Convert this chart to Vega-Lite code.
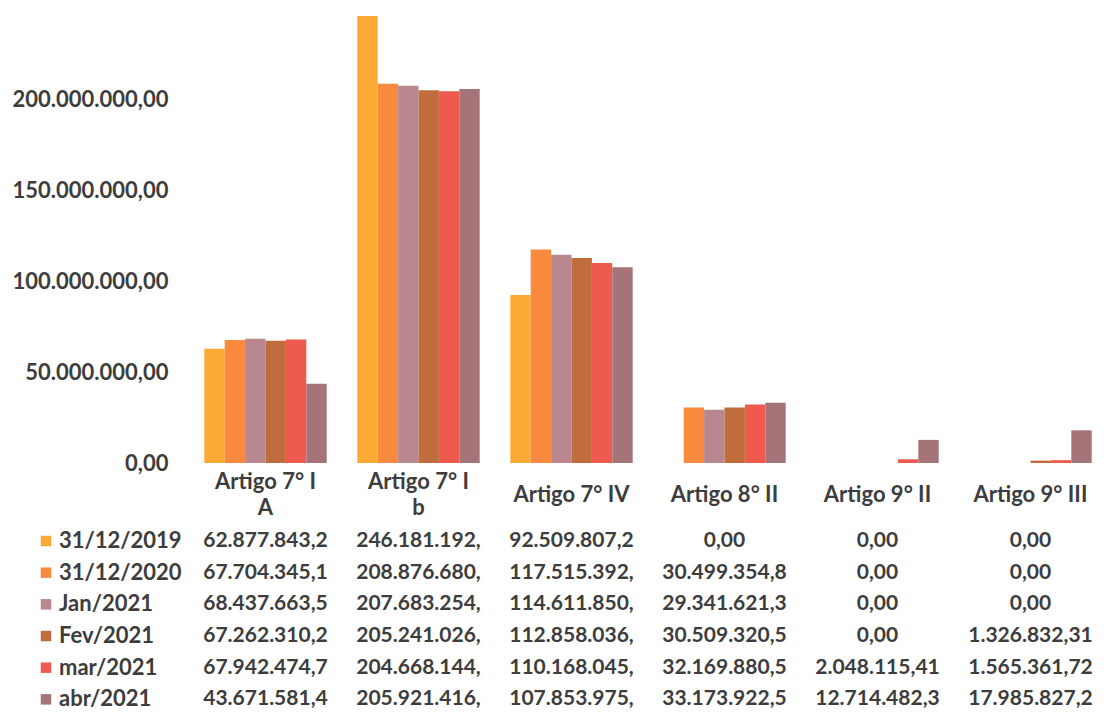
{
  "$schema": "https://vega.github.io/schema/vega-lite/v6.json",
  "background": "white",
  "padding": {"left": 12, "top": 9, "right": 0, "bottom": 0},
  "spacing": 62,
  "bounds": "flush",
  "data": {"values": [
    {"artigo": "Artigo 7° I A", "serie": "31/12/2019", "valor": 62877843.2, "rotulo": "62.877.843,2"},
    {"artigo": "Artigo 7° I A", "serie": "31/12/2020", "valor": 67704345.1, "rotulo": "67.704.345,1"},
    {"artigo": "Artigo 7° I A", "serie": "Jan/2021", "valor": 68437663.5, "rotulo": "68.437.663,5"},
    {"artigo": "Artigo 7° I A", "serie": "Fev/2021", "valor": 67262310.2, "rotulo": "67.262.310,2"},
    {"artigo": "Artigo 7° I A", "serie": "mar/2021", "valor": 67942474.7, "rotulo": "67.942.474,7"},
    {"artigo": "Artigo 7° I A", "serie": "abr/2021", "valor": 43671581.4, "rotulo": "43.671.581,4"},
    {"artigo": "Artigo 7° I b", "serie": "31/12/2019", "valor": 246181192, "rotulo": "246.181.192,"},
    {"artigo": "Artigo 7° I b", "serie": "31/12/2020", "valor": 208876680, "rotulo": "208.876.680,"},
    {"artigo": "Artigo 7° I b", "serie": "Jan/2021", "valor": 207683254, "rotulo": "207.683.254,"},
    {"artigo": "Artigo 7° I b", "serie": "Fev/2021", "valor": 205241026, "rotulo": "205.241.026,"},
    {"artigo": "Artigo 7° I b", "serie": "mar/2021", "valor": 204668144, "rotulo": "204.668.144,"},
    {"artigo": "Artigo 7° I b", "serie": "abr/2021", "valor": 205921416, "rotulo": "205.921.416,"},
    {"artigo": "Artigo 7° IV", "serie": "31/12/2019", "valor": 92509807.2, "rotulo": "92.509.807,2"},
    {"artigo": "Artigo 7° IV", "serie": "31/12/2020", "valor": 117515392, "rotulo": "117.515.392,"},
    {"artigo": "Artigo 7° IV", "serie": "Jan/2021", "valor": 114611850, "rotulo": "114.611.850,"},
    {"artigo": "Artigo 7° IV", "serie": "Fev/2021", "valor": 112858036, "rotulo": "112.858.036,"},
    {"artigo": "Artigo 7° IV", "serie": "mar/2021", "valor": 110168045, "rotulo": "110.168.045,"},
    {"artigo": "Artigo 7° IV", "serie": "abr/2021", "valor": 107853975, "rotulo": "107.853.975,"},
    {"artigo": "Artigo 8° II", "serie": "31/12/2019", "valor": 0, "rotulo": "0,00"},
    {"artigo": "Artigo 8° II", "serie": "31/12/2020", "valor": 30499354.8, "rotulo": "30.499.354,8"},
    {"artigo": "Artigo 8° II", "serie": "Jan/2021", "valor": 29341621.3, "rotulo": "29.341.621,3"},
    {"artigo": "Artigo 8° II", "serie": "Fev/2021", "valor": 30509320.5, "rotulo": "30.509.320,5"},
    {"artigo": "Artigo 8° II", "serie": "mar/2021", "valor": 32169880.5, "rotulo": "32.169.880,5"},
    {"artigo": "Artigo 8° II", "serie": "abr/2021", "valor": 33173922.5, "rotulo": "33.173.922,5"},
    {"artigo": "Artigo 9° II", "serie": "31/12/2019", "valor": 0, "rotulo": "0,00"},
    {"artigo": "Artigo 9° II", "serie": "31/12/2020", "valor": 0, "rotulo": "0,00"},
    {"artigo": "Artigo 9° II", "serie": "Jan/2021", "valor": 0, "rotulo": "0,00"},
    {"artigo": "Artigo 9° II", "serie": "Fev/2021", "valor": 0, "rotulo": "0,00"},
    {"artigo": "Artigo 9° II", "serie": "mar/2021", "valor": 2048115.41, "rotulo": "2.048.115,41"},
    {"artigo": "Artigo 9° II", "serie": "abr/2021", "valor": 12714482.3, "rotulo": "12.714.482,3"},
    {"artigo": "Artigo 9° III", "serie": "31/12/2019", "valor": 0, "rotulo": "0,00"},
    {"artigo": "Artigo 9° III", "serie": "31/12/2020", "valor": 0, "rotulo": "0,00"},
    {"artigo": "Artigo 9° III", "serie": "Jan/2021", "valor": 0, "rotulo": "0,00"},
    {"artigo": "Artigo 9° III", "serie": "Fev/2021", "valor": 1326832.31, "rotulo": "1.326.832,31"},
    {"artigo": "Artigo 9° III", "serie": "mar/2021", "valor": 1565361.72, "rotulo": "1.565.361,72"},
    {"artigo": "Artigo 9° III", "serie": "abr/2021", "valor": 17985827.2, "rotulo": "17.985.827,2"}
  ]},
  "vconcat": [
    {
      "width": 918,
      "height": 454,
      "mark": {"type": "bar"},
      "encoding": {
        "x": {
          "field": "artigo", "type": "nominal",
          "sort": ["Artigo 7° I A", "Artigo 7° I b", "Artigo 7° IV", "Artigo 8° II", "Artigo 9° II", "Artigo 9° III"],
          "scale": {"paddingInner": 0.2, "paddingOuter": 0.1},
          "axis": {
            "title": null, "labelAngle": 0, "ticks": false, "domain": false, "grid": false,
            "labelExpr": "(datum.label == 'Artigo 7° I A' || datum.label == 'Artigo 7° I b') ? [slice(datum.label, 0, -2), slice(datum.label, -1)] : datum.label",
            "labelPadding": {"condition": {"test": "datum.value == 'Artigo 7° I A' || datum.value == 'Artigo 7° I b'", "value": 18}, "value": 31},
            "labelBaseline": "middle", "labelLineHeight": 26,
            "labelFont": "Lato", "labelFontWeight": "bold", "labelFontSize": 22, "labelColor": "#3d3d3d"
          }
        },
        "xOffset": {
          "field": "serie", "type": "nominal",
          "sort": ["31/12/2019", "31/12/2020", "Jan/2021", "Fev/2021", "mar/2021", "abr/2021"],
          "scale": {"paddingInner": 0, "paddingOuter": 0}
        },
        "y": {
          "field": "valor", "type": "quantitative",
          "scale": {"domain": [0, 250000000], "nice": false},
          "axis": {
            "title": null, "grid": false, "domain": false, "ticks": false,
            "values": [0, 50000000, 100000000, 150000000, 200000000],
            "format": ",.2f", "labelPadding": 21,
            "labelFont": "Lato", "labelFontWeight": "bold", "labelFontSize": 22, "labelColor": "#3d3d3d"
          }
        },
        "color": {
          "field": "serie", "type": "nominal",
          "scale": {
            "domain": ["31/12/2019", "31/12/2020", "Jan/2021", "Fev/2021", "mar/2021", "abr/2021"],
            "range": ["#FBAB35", "#F98A3E", "#B9878F", "#C06C3C", "#EE5A4E", "#A57478"]
          },
          "legend": null
        }
      }
    },
    {
      "width": 918,
      "height": 190,
      "encoding": {
        "x": {
          "field": "artigo", "type": "nominal",
          "sort": ["Artigo 7° I A", "Artigo 7° I b", "Artigo 7° IV", "Artigo 8° II", "Artigo 9° II", "Artigo 9° III"],
          "scale": {"paddingInner": 0.2, "paddingOuter": 0.1},
          "axis": null
        },
        "y": {
          "field": "serie", "type": "nominal",
          "sort": ["31/12/2019", "31/12/2020", "Jan/2021", "Fev/2021", "mar/2021", "abr/2021"],
          "scale": {"paddingInner": 0, "paddingOuter": 0},
          "axis": null
        }
      },
      "layer": [
        {
          "mark": {"type": "square", "opacity": 0, "size": 1},
          "encoding": {
            "color": {
              "field": "serie", "type": "nominal",
              "scale": {
                "domain": ["31/12/2019", "31/12/2020", "Jan/2021", "Fev/2021", "mar/2021", "abr/2021"],
                "range": ["#FBAB35", "#F98A3E", "#B9878F", "#C06C3C", "#EE5A4E", "#A57478"]
              },
              "legend": {
                "orient": "left", "title": null, "symbolType": "square", "symbolSize": 110,
                "symbolOpacity": 1, "symbolStrokeWidth": 0,
                "labelFont": "Lato", "labelFontWeight": "bold", "labelFontSize": 22, "labelColor": "#3d3d3d",
                "rowPadding": 9.67, "padding": 5, "offset": 2, "labelOffset": 2, "labelLimit": 220
              }
            }
          }
        },
        {
          "mark": {"type": "text", "font": "Lato", "fontWeight": "bold", "fontSize": 21, "color": "#3d3d3d", "align": "center", "baseline": "middle"},
          "encoding": {"text": {"field": "rotulo"}}
        }
      ]
    }
  ],
  "resolve": {"legend": {"color": "independent"}},
  "config": {
    "view": {"stroke": null},
    "locale": {"number": {"decimal": ",", "thousands": ".", "grouping": [3], "currency": ["R$", ""]}}
  }
}
